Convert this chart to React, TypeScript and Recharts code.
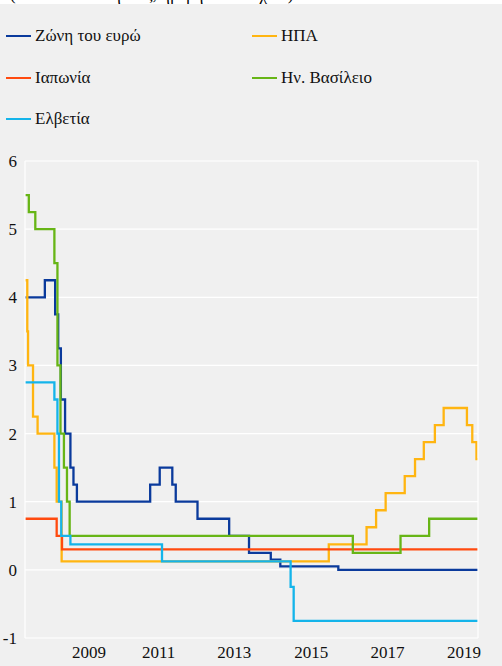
import React from "react";
import {
  LineChart,
  Line,
  XAxis,
  YAxis,
  CartesianGrid,
} from "recharts";

// dates as decimal years, rates in %
const euroArea = [
  [2008.0, 4.0], [2008.52, 4.25], [2008.79, 3.75], [2008.87, 3.25],
  [2008.94, 2.5], [2009.05, 2.0], [2009.19, 1.5], [2009.27, 1.25],
  [2009.36, 1.0], [2011.28, 1.25], [2011.53, 1.5], [2011.86, 1.25],
  [2011.95, 1.0], [2012.52, 0.75], [2013.35, 0.5], [2013.87, 0.25],
  [2014.44, 0.15], [2014.69, 0.05], [2016.21, 0.0], [2019.87, 0.0],
];

const usa = [
  [2008.0, 4.25], [2008.06, 3.5], [2008.08, 3.0], [2008.21, 2.25],
  [2008.33, 2.0], [2008.77, 1.5], [2008.83, 1.0], [2008.96, 0.125],
  [2015.96, 0.375], [2016.95, 0.625], [2017.2, 0.875], [2017.45, 1.125],
  [2017.95, 1.375], [2018.22, 1.625], [2018.45, 1.875], [2018.74, 2.125],
  [2018.97, 2.375], [2019.58, 2.125], [2019.72, 1.875], [2019.83, 1.625],
  [2019.87, 1.625],
];

const japan = [
  [2008.0, 0.75], [2008.83, 0.5], [2008.97, 0.3], [2019.87, 0.3],
];

const uk = [
  [2008.0, 5.5], [2008.1, 5.25], [2008.27, 5.0], [2008.77, 4.5],
  [2008.85, 3.0], [2008.93, 2.0], [2009.02, 1.5], [2009.1, 1.0],
  [2009.17, 0.5], [2016.59, 0.25], [2017.84, 0.5], [2018.59, 0.75],
  [2019.87, 0.75],
];

const switzerland = [
  [2008.0, 2.75], [2008.77, 2.5], [2008.85, 2.0], [2008.89, 1.0],
  [2008.95, 0.5], [2009.19, 0.375], [2011.59, 0.125], [2014.96, -0.25],
  [2015.04, -0.75], [2019.87, -0.75],
];

const yearTicks = [2009.68, 2011.5, 2013.48, 2015.5, 2017.5, 2019.5];
const rateTicks = [-1, 0, 1, 2, 3, 4, 5, 6];

const series = [
  { name: "Ζώνη του ευρώ", color: "#0a3a9c", points: euroArea },
  { name: "ΗΠΑ", color: "#ffb511", points: usa },
  { name: "Ιαπωνία", color: "#ff4a0f", points: japan },
  { name: "Ην. Βασίλειο", color: "#67b516", points: uk },
  { name: "Ελβετία", color: "#14b4ea", points: switzerland },
];

const FONT = "'Liberation Serif'";
const globalCss = `
  html, body, #root, div, span, svg, svg text, svg tspan {
    font-family: 'Liberation Serif' !important;
  }
`;

const toRows = (pts: number[][]) => pts.map(([t, v]) => ({ t, v }));

const LegendItem = ({ name, color, x, y }: any) => (
  <div
    style={{
      position: "absolute",
      left: x,
      top: y - 11,
      height: 22,
      display: "flex",
      alignItems: "center",
      fontFamily: FONT,
      fontSize: 17,
      color: "#111",
      whiteSpace: "nowrap",
    }}
  >
    <span
      style={{
        display: "inline-block",
        width: 25,
        height: 2.5,
        background: color,
        marginRight: 4,
      }}
    />
    {name}
  </div>
);

const legendPos = [
  { x: 6, y: 36 },
  { x: 252, y: 36 },
  { x: 6, y: 78 },
  { x: 252, y: 78 },
  { x: 6, y: 119 },
];

const tickStyle = {
  fill: "#111",
  fontSize: 17,
  fontFamily: FONT,
  style: { fontFamily: FONT },
};

export default function App() {
  return (
    <div
      style={{
        position: "absolute",
        top: 0,
        left: 0,
        width: 502,
        height: 666,
        background: "#f0f0f0",
        overflow: "hidden",
        fontFamily: FONT,
      }}
    >
      <style>{globalCss}</style>
      <div
        style={{
          position: "absolute",
          top: 0,
          left: 0,
          width: 502,
          height: 4,
          background: "#fff",
          overflow: "hidden",
        }}
      >
        <div
          style={{
            position: "absolute",
            top: -15,
            left: 10,
            fontSize: 17,
            lineHeight: "19px",
            whiteSpace: "nowrap",
          }}
        >
          (ποσοστά % ετησίως, ημερήσια στοιχεία)
        </div>
      </div>

      {series.map((s, i) => (
        <LegendItem key={s.name} name={s.name} color={s.color} {...legendPos[i]} />
      ))}

      <div style={{ position: "absolute", top: 0, left: 0 }}>
        <LineChart
          width={502}
          height={666}
          margin={{ top: 161, right: 0, bottom: 0, left: 0 }}
          style={{ fontFamily: FONT }}
        >
          <CartesianGrid vertical={false} stroke="#ffffff" strokeWidth={1.2} yAxisId="left" />
          <XAxis
            dataKey="t"
            type="number"
            domain={[2008.0, 2019.87]}
            allowDataOverflow
            ticks={yearTicks}
            tickFormatter={(v: number) => String(Math.floor(v))}
            interval={0}
            height={28}
            axisLine={false}
            tickLine={false}
            tick={tickStyle}
          />
          <YAxis
            yAxisId="left"
            orientation="left"
            width={25}
            domain={[-1, 6]}
            ticks={rateTicks}
            interval={0}
            tickLine={false}
            axisLine={{ stroke: "#ffffff", strokeWidth: 1.2 }}
            tick={tickStyle}
          />
          <YAxis
            yAxisId="right"
            orientation="right"
            width={24}
            domain={[-1, 6]}
            ticks={rateTicks}
            interval={0}
            tickLine={false}
            tickMargin={2}
            axisLine={{ stroke: "#ffffff", strokeWidth: 1.2 }}
            tick={tickStyle}
          />
          {series.map((s) => (
            <Line
              key={s.name}
              yAxisId="left"
              data={toRows(s.points)}
              dataKey="v"
              name={s.name}
              type="stepAfter"
              stroke={s.color}
              strokeWidth={2.3}
              dot={false}
              activeDot={false}
              isAnimationActive={false}
            />
          ))}
        </LineChart>
      </div>
    </div>
  );
}
